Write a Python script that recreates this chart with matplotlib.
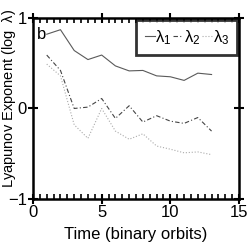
import matplotlib
matplotlib.use('Agg')
import matplotlib.pyplot as plt
import matplotlib.ticker as mtick

# Lyapunov exponents vs time
t = [1, 2, 3, 4, 5, 6, 7, 8, 9, 10, 11, 12, 13]
lam1 = [0.82, 0.87, 0.64, 0.54, 0.59, 0.47, 0.415, 0.42, 0.36, 0.35, 0.31, 0.39, 0.375]
lam2 = [0.59, 0.42, 0.0, 0.015, 0.11, -0.11, 0.03, -0.15, -0.08, -0.14, -0.165, -0.10, -0.25]
lam3 = [0.49, 0.36, -0.18, -0.33, 0.0, -0.25, -0.34, -0.28, -0.415, -0.45, -0.49, -0.48, -0.51]
xticks = [0, 5, 10, 15]
yticks = [-1, 0, 1]

fam = 'Liberation Sans'
plt.rcParams['font.family'] = [fam, 'DejaVu Sans']
plt.rcParams['mathtext.fontset'] = 'custom'
plt.rcParams['mathtext.rm'] = fam
plt.rcParams['mathtext.it'] = fam

fig = plt.figure(figsize=(2.49, 2.49), dpi=100)
ax = fig.add_axes([0.1325, 0.2008, 0.8275, 0.7272])

ax.plot(t, lam1, color='#5a5a5a', lw=0.8, ls='-', label=r'$\lambda_1$')
ax.plot(t, lam2, color='#444444', lw=0.8, ls=(0, (4, 2, 1, 2)), label=r'$\lambda_2$')
ax.plot(t, lam3, color='#aaaaaa', lw=0.8, ls=':', label=r'$\lambda_3$')

ax.set_xlim(0, 15)
ax.set_ylim(-1, 1)
ax.set_xticks(xticks)
ax.set_yticks(yticks)
ax.xaxis.set_minor_locator(mtick.MultipleLocator(0.5))
ax.yaxis.set_minor_locator(mtick.NullLocator())

for s in ax.spines.values():
    s.set_linewidth(1.8)

ax.tick_params(axis='x', which='major', direction='inout', length=7, width=1.5,
               top=True, labelsize=12, pad=1)
ax.tick_params(axis='x', which='minor', direction='in', length=3.5, width=1.2, top=True)
ax.tick_params(axis='y', which='major', direction='inout', length=7, width=1.5,
               right=True, labelsize=12, pad=1)

ax.set_xlabel('Time (binary orbits)', fontsize=12)
ax.set_ylabel(r'Lyapunov Exponent (log  $\lambda$)', fontsize=10.5)
ax.yaxis.set_label_coords(-0.075, 0.555)
ax.xaxis.set_label_coords(0.5, -0.155)

ax.text(0.02, 0.95, 'b', transform=ax.transAxes, fontsize=12, va='top', ha='left')

leg = ax.legend(loc='upper right', ncol=3, frameon=True, fancybox=False,
                fontsize=12, handlelength=0.6, handletextpad=0.05, columnspacing=0.1,
                borderpad=0.5, borderaxespad=0.1)
leg.get_frame().set_edgecolor('black')
leg.get_frame().set_linewidth(2)

plt.savefig('out.png', dpi=100)
